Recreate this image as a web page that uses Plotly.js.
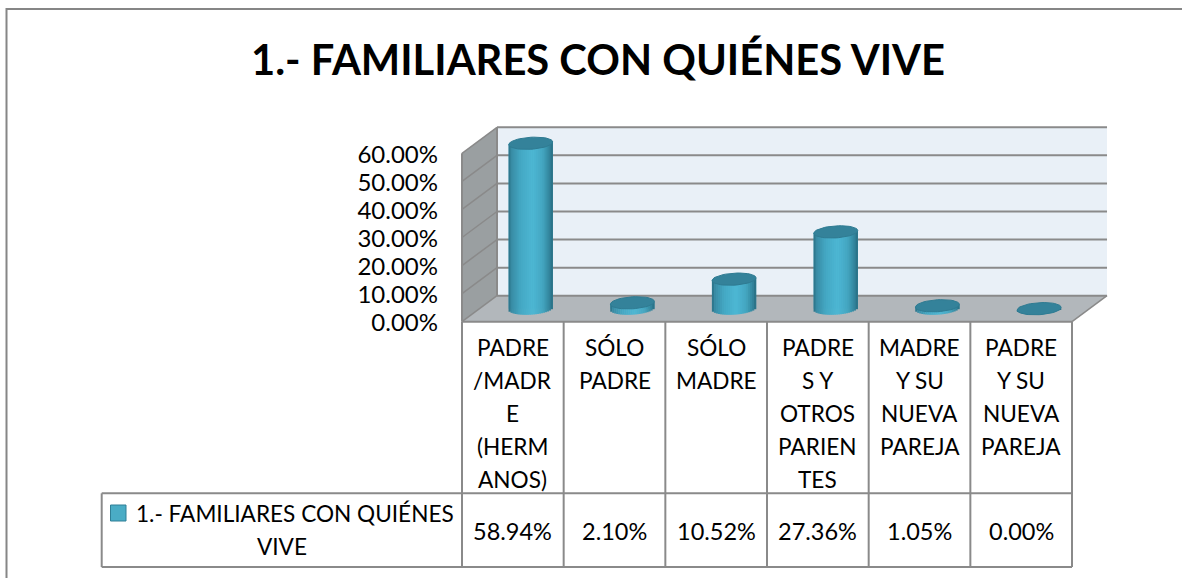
<!DOCTYPE html>
<html><head><meta charset="utf-8">
<script src="https://cdn.plot.ly/plotly-3.0.1.min.js"></script>
<style>html,body{margin:0;padding:0;background:#fff}#c{width:1182px;height:578px}</style>
</head><body><div id="c"></div>
<script>
const titleText = "1.- FAMILIARES CON QUIÉNES VIVE";
const seriesName = "1.- FAMILIARES CON QUIÉNES VIVE";
const categories = ["PADRE/MADRE (HERMANOS)","SÓLO PADRE","SÓLO MADRE","PADRES Y OTROS PARIENTES","MADRE Y SU NUEVA PAREJA","PADRE Y SU NUEVA PAREJA"];
const categoryLines = [["PADRE","/MADR","E","(HERM","ANOS)"],["SÓLO","PADRE"],["SÓLO","MADRE"],["PADRE","S Y","OTROS","PARIEN","TES"],["MADRE","Y SU","NUEVA","PAREJA"],["PADRE","Y SU","NUEVA","PAREJA"]];
const values = [58.94,2.10,10.52,27.36,1.05,0.00];
const valueLabels = ["58.94%","2.10%","10.52%","27.36%","1.05%","0.00%"];
const yTicks = [0,10,20,30,40,50,60];
const yTickLabels = ["0.00%","10.00%","20.00%","30.00%","40.00%","50.00%","60.00%"];
const legendLines = ["1.- FAMILIARES CON QUIÉNES","VIVE"];

const W=1182,H=578,FONT="Lato, 'Open Sans', sans-serif",TXT="#000",LINE="#8a8a8a";
const pxPerCat=101.67,pxPerUnit=2.807,x0px=462,y0px=321.7;
const DX=35/pxPerCat, DY=26/pxPerUnit;
const n=categories.length;
const xr=[-0.5-x0px/pxPerCat,-0.5+(W-x0px)/pxPerCat];
const yr=[-(H-y0px)/pxPerUnit,y0px/pxPerUnit];
const A=22,B=6,K=0.06;            // cylinder ellipse, in pixels
const fx=c=>c+DX/2+0.004, fy=DY/2;
const stops=[[-1,[41,110,131]],[-.86,[56,140,165]],[-.45,[68,168,196]],[.1,[77,183,212]],[.55,[68,166,193]],[.86,[50,132,156]],[1,[40,108,128]]];
function col(t){for(let i=1;i<stops.length;i++){if(t<=stops[i][0]){const a=stops[i-1],b=stops[i],f=(t-a[0])/(b[0]-a[0]);
  return 'rgb('+a[1].map((v,j)=>Math.round(v+(b[1][j]-v)*f)).join(',')+')';}}return 'rgb(40,108,128)';}

// plain bars from the data
const traces=[{type:'bar',name:seriesName,x:values.map((v,i)=>fx(i)),y:values,base:values.map(()=>fy),
  width:2*A/pxPerCat,marker:{color:'#3FA2BD',line:{width:0}},customdata:categories,hovertemplate:'%{customdata}: %{y:.2f}%<extra></extra>',showlegend:false}];
// cylinder shading strips
const sx=[],sy=[],sb=[],sc=[],sw=[];
const STEP=2;
values.forEach((v,i)=>{for(let p=-A+STEP/2;p<A;p+=STEP){const t=p/A;
  const low=K*p-B*Math.sqrt(Math.max(0,1-t*t));
  const base=fy+low/pxPerUnit, top=fy+v+K*p/pxPerUnit;
  sx.push(fx(i)+p/pxPerCat);sb.push(base);sy.push(top-base);sc.push(col(t));sw.push((STEP+0.4)/pxPerCat);}});
traces.push({type:'bar',x:sx,y:sy,base:sb,width:sw,marker:{color:sc,line:{width:0}},hoverinfo:'skip',showlegend:false});
// top faces
values.forEach((v,i)=>{const ex=[],ey=[];for(let s=0;s<=48;s++){const th=s/48*2*Math.PI,p=A*Math.cos(th);
  ex.push(fx(i)+p/pxPerCat);ey.push(fy+v+(K*p+B*Math.sin(th))/pxPerUnit);}
  traces.push({type:'scatter',mode:'lines',x:ex,y:ey,fill:'toself',fillcolor:'#34829A',line:{color:'#2F7B92',width:1},hoverinfo:'skip',showlegend:false});});

const pxX=p=>xr[0]+(p/W)*(xr[1]-xr[0]);
const pxY=p=>yr[1]-(p/H)*(yr[1]-yr[0]);
const L=-0.5,R=n-0.5,T=yTicks[yTicks.length-1];
const poly=(pts,fill)=>({type:'path',layer:'below',xref:'x',yref:'y',path:'M'+pts.map(q=>q.join(',')).join('L')+'Z',fillcolor:fill,line:{width:0}});
const seg=(a,b,w,c,layer)=>({type:'line',layer:layer||'above',xref:'x',yref:'y',x0:a[0],y0:a[1],x1:b[0],y1:b[1],line:{color:c||LINE,width:w||2}});
const shapes=[
  poly([[L+DX,DY],[R+DX,DY],[R+DX,T+DY],[L+DX,T+DY]],'#E9F0F7'),
  poly([[L,0],[L+DX,DY],[L+DX,T+DY],[L,T]],'#9A9FA1'),
  poly([[L,0],[R,0],[R+DX,DY],[L+DX,DY]],'#B2B7BB')
];
yTicks.forEach(t=>{
  shapes.push(seg([L+DX,t+DY],[R+DX,t+DY],2,LINE,'below'));
  shapes.push(seg([L,t],[L+DX,t+DY],1.5,LINE,'below'));
});
shapes.push(seg([L,0],[L,T],2,LINE,'below'),seg([L+DX,0+DY],[L+DX,T+DY],2,LINE,'below'),seg([R,0],[R+DX,DY],1.5,LINE,'below'));
// data table
const rowTop=pxY(493.3),rowBot=pxY(567),tabLeft=pxX(101.7);
shapes.push(seg([L,0],[R,0]),seg([tabLeft,rowTop],[R,rowTop]),seg([tabLeft,rowBot],[R,rowBot]),seg([tabLeft,rowTop],[tabLeft,rowBot]));
for(let i=0;i<=n;i++)shapes.push(seg([L+i,0],[L+i,rowBot]));
// legend key
shapes.push({type:'rect',xref:'paper',yref:'paper',x0:110.5/W,x1:126/W,y0:1-521/H,y1:1-505/H,fillcolor:'#4AACC5',line:{color:'#2F7F96',width:1}});
// outer frame (open on right/bottom, as cropped)
shapes.push({type:'path',xref:'paper',yref:'paper',path:`M${6.5/W},0L${6.5/W},${1-9/H}L1,${1-9/H}`,line:{color:'#868686',width:2}});

const FS=22.6,FN=23.5;
const ann=[];
const note=(text,x,xref,py,opts)=>ann.push(Object.assign({text,x,xref,y:1-py/H,yref:'paper',showarrow:false,xanchor:'center',yanchor:'middle',font:{family:FONT,size:FS,color:TXT}},opts||{}));
categoryLines.forEach((ls,i)=>ls.forEach((s,j)=>note(s,i,'x',347+j*33)));
valueLabels.forEach((s,i)=>note(s,i,'x',531,{font:{family:FONT,size:FN,color:TXT}}));
note(legendLines[0],294.5/W,'paper',513);
note(legendLines[1],282/W,'paper',546);

const layout={width:W,height:H,margin:{l:0,r:0,t:0,b:0,pad:0},paper_bgcolor:'#fff',plot_bgcolor:'rgba(0,0,0,0)',barmode:'overlay',showlegend:false,
  title:{text:titleText,font:{family:FONT,size:41.7,color:TXT,weight:700},x:598/W,xanchor:'center',y:1-60/H,yanchor:'middle'},
  xaxis:{range:xr,visible:false,fixedrange:true},
  yaxis:{range:yr,anchor:'free',position:x0px/W,tickmode:'array',tickvals:yTicks,ticktext:yTickLabels,showgrid:false,zeroline:false,showline:false,ticks:'',ticklabelstandoff:24,ticklabelshift:1,tickfont:{family:FONT,size:24,color:TXT},fixedrange:true},
  shapes,annotations:ann};
Plotly.newPlot('c',traces,layout,{displayModeBar:false,responsive:false});
</script></body></html>
